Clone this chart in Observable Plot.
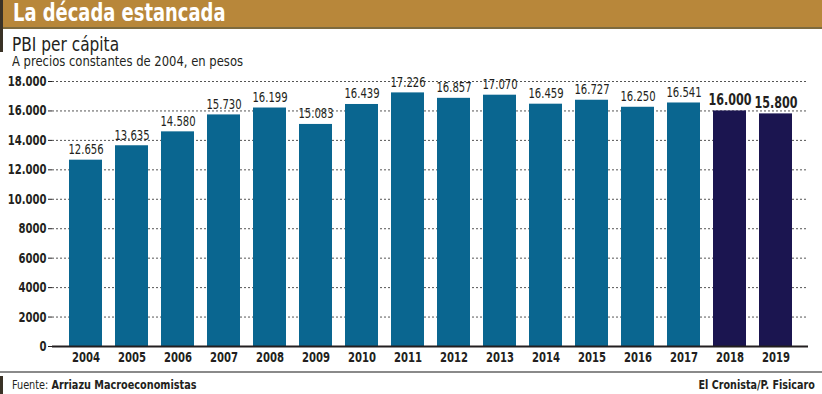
<!DOCTYPE html>
<html>
<head>
<meta charset="utf-8">
<script src="https://cdn.jsdelivr.net/npm/d3@7"></script>
<script src="https://cdn.jsdelivr.net/npm/@observablehq/plot@0.6"></script>
<style>
  html, body { margin: 0; padding: 0; background: #fff; }
  #wrap { position: relative; width: 822px; height: 394px; overflow: hidden; font-family: "DejaVu Sans Condensed", "DejaVu Sans", sans-serif; color: #231f20; }
  #header { position: absolute; left: 0; top: 0; width: 822px; height: 27px; background: #b8873a; border-bottom: 2px solid #7d6a3e; }
  .sx { transform: scaleX(0.83); transform-origin: left top; white-space: nowrap; }
  #title { position: absolute; left: 13px; top: 0px; font-size: 24px; line-height: 26px; font-weight: bold; color: #fff; }
  #lbar { position: absolute; left: 0; top: 0; width: 3px; height: 52px; background: #3a3226; }
  #sub1 { position: absolute; left: 12px; top: 33px; font-size: 19px; transform: scaleX(0.9); transform-origin: left top; white-space: nowrap; }
  #sub2 { position: absolute; left: 12px; top: 53px; font-size: 14px; transform: scaleX(0.92); transform-origin: left top; white-space: nowrap; }
  #chart { position: absolute; left: 0; top: 70px; }
  #fline { position: absolute; left: 0; top: 371px; width: 822px; height: 2px; background: #8a8a8a; }
  #fbar { position: absolute; left: 0; top: 376px; width: 3px; height: 18px; background: #3a3226; }
  #src { position: absolute; left: 12px; top: 377px; font-size: 13px; }
  #cred { position: absolute; right: 7px; top: 377px; font-size: 13px; font-weight: bold; transform: scaleX(0.82); transform-origin: right top; white-space: nowrap; }
</style>
</head>
<body>
<div id="wrap">
  <div id="header"></div>
  <div id="title" class="sx">La década estancada</div>
  <div id="lbar"></div>
  <div id="sub1">PBI per cápita</div>
  <div id="sub2">A precios constantes de 2004, en pesos</div>
  <div id="chart"></div>
  <div id="fline"></div>
  <div id="fbar"></div>
  <div id="src" class="sx">Fuente: <b>Arriazu Macroeconomistas</b></div>
  <div id="cred">El Cronista/P. Fisicaro</div>
</div>
<script>
const years = ["2004","2005","2006","2007","2008","2009","2010","2011","2012","2013","2014","2015","2016","2017","2018","2019"];
const values = [12656, 13635, 14580, 15730, 16199, 15083, 16439, 17226, 16857, 17070, 16459, 16727, 16250, 16541, 16000, 15800];
const projected = ["2018","2019"];
const yTicks = [0, 2000, 4000, 6000, 8000, 10000, 12000, 14000, 16000, 18000];

const data = years.map((y, i) => ({year: y, value: values[i], proj: projected.includes(y)}));
const loc = d3.formatLocale({decimal: ",", thousands: ".", grouping: [3], currency: ["$", ""]});
const fmt = loc.format(",d");
const tickFmt = d => d >= 10000 ? fmt(d) : String(d);

const font = '"DejaVu Sans Condensed", "DejaVu Sans", sans-serif';

const plot = Plot.plot({
  width: 822,
  height: 300,
  marginLeft: 52,
  marginRight: 14,
  marginTop: 11,
  marginBottom: 24,
  style: {fontFamily: font, fontSize: "14px", color: "#231f20", background: "transparent"},
  x: {domain: years, paddingInner: 0.29, paddingOuter: 0.315, label: null},
  y: {domain: [0, 18000], label: null},
  marks: [
    Plot.ruleY(yTicks.filter(d => d > 0), {stroke: "#555", strokeWidth: 1, strokeDasharray: "2,2"}),
    Plot.barY(data, {x: "year", y: "value", fill: d => d.proj ? "#1b1550" : "#0a6690"}),
    Plot.ruleY([0], {stroke: "#231f20", strokeWidth: 2}),
    Plot.text(data.filter(d => !d.proj), {x: "year", y: "value", text: d => fmt(d.value), dy: -6, lineAnchor: "bottom", fontSize: 14, fill: "#231f20"}),
    Plot.text(data.filter(d => d.proj), {x: "year", y: "value", text: d => fmt(d.value), dy: -6, lineAnchor: "bottom", fontSize: 15.5, fontWeight: "bold", fill: "#231f20"}),
    Plot.axisY({ticks: yTicks, tickFormat: tickFmt, tickSize: 4, tickPadding: 2, fontSize: 14, fontWeight: "bold", stroke: "#231f20"}),
    Plot.axisX({tickSize: 0, tickPadding: 6, fontSize: 14, fontWeight: "bold"})
  ]
});

document.getElementById("chart").appendChild(plot);

// condense SVG text horizontally around its anchor point
const svgns = "http://www.w3.org/2000/svg";
Array.from(plot.querySelectorAll("text")).forEach(el => {
  const bb = el.getBBox();
  const anchor = getComputedStyle(el).textAnchor;
  const bx = anchor === "end" ? bb.x + bb.width : anchor === "middle" ? bb.x + bb.width / 2 : bb.x;
  const by = bb.y + bb.height / 2;
  const tl = el.transform.baseVal.consolidate();
  const m = tl ? tl.matrix : {a: 1, c: 0, e: 0};
  const ax = m.a * bx + m.c * by + m.e;
  const g = document.createElementNS(svgns, "g");
  g.setAttribute("transform", `translate(${ax},0) scale(0.8,1) translate(${-ax},0)`);
  el.parentNode.insertBefore(g, el);
  g.appendChild(el);
});
</script>
</body>
</html>
